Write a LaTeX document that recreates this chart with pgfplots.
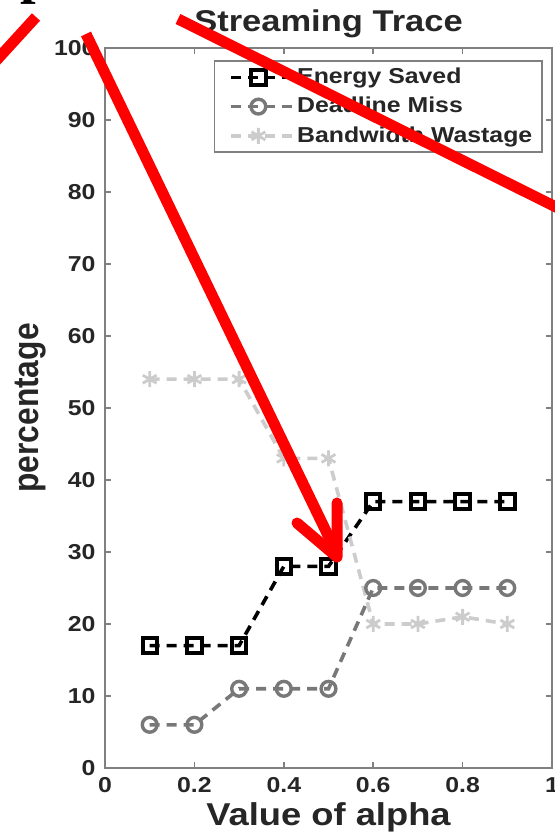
\documentclass[border=0pt]{standalone}
\usepackage{pgfplots}
\pgfplotsset{compat=1.18}
\usepackage{fontspec}
\setmainfont{Liberation Sans}[FakeStretch=1.15]
\newfontfamily\serifbold{Liberation Serif}

\definecolor{energyc}{gray}{0.0}
\definecolor{missc}{gray}{0.47}
\definecolor{wastec}{gray}{0.80}
\definecolor{framec}{gray}{0.50}

\begin{document}
\begin{tikzpicture}
% page frame (0.5pt per pixel), axis origin at (0,0)
\path[use as bounding box] (-52.5pt,-33pt) rectangle (225pt,384pt);
\begin{axis}[
  at={(0,0)}, anchor=south west,
  scale only axis, width=223.5pt, height=360pt,
  xmin=0, xmax=1, ymin=0, ymax=100,
  xtick={0,0.2,0.4,0.6,0.8,1},
  xticklabels={0,0.2,0.4,0.6,0.8,1},
  ytick={0,10,20,30,40,50,60,70,80,90,100},
  tick align=inside, major tick length=3pt,
  axis line style={draw=framec, line width=0.9pt},
  tick style={draw=framec, line width=0.8pt},
  /pgf/number format/assume math mode=true,
  ticklabel style={font=\bfseries\fontsize{10.8}{13}\selectfont, text=black!85},
  xticklabel style={anchor=base, yshift=-12pt},
  yticklabel style={xshift=-1.2pt},
  title={Streaming Trace},
  every axis title/.style={font=\bfseries\fontsize{15}{18}\selectfont,
    text=black!85, at={([yshift=8pt]axis description cs:0.5,1)}, anchor=base},
  xlabel={Value of alpha},
  every axis x label/.style={font=\bfseries\fontsize{15.8}{19}\selectfont,
    text=black!85, at={([yshift=-28.5pt]axis description cs:0.5,0)},
    anchor=base},
  ylabel={\scalebox{1}[1.3]{percentage}},
  every axis y label/.style={font=\bfseries\fontsize{13.8}{16}\selectfont,
    text=black!85, rotate=90,
    at={([xshift=-33.5pt]axis description cs:0,0.5)}, anchor=base},
  legend cell align=left,
  legend style={at={(0.98,0.983)}, anchor=north east,
    draw=framec, line width=0.8pt, text=black!85,
    font=\bfseries\fontsize{10.8}{13}\selectfont,
    inner xsep=4pt, inner ysep=1.5pt, row sep=1.3pt,
    nodes={inner xsep=1pt}},
  legend image code/.code={%
    \path (-3.5pt,0pt);
    \draw[mark repeat=2, mark phase=2, #1]
      plot coordinates {(0pt,0pt) (13.5pt,0pt) (31pt,0pt)};},
  every axis plot/.append style={line width=1.8pt,
    dash pattern=on 5pt off 3.5pt},
]
\addplot[color=energyc, mark=square, mark size=3.6pt,
  mark options={solid, fill=white, line width=2pt}]
  coordinates {(0.1,17) (0.2,17) (0.3,17) (0.4,28) (0.5,28)
               (0.6,37) (0.7,37) (0.8,37) (0.9,37)};
\addlegendentry{Energy Saved}
\addplot[color=missc, mark=o, mark size=3.7pt,
  mark options={solid, fill=white, line width=1.7pt}]
  coordinates {(0.1,6) (0.2,6) (0.3,11) (0.4,11) (0.5,11)
               (0.6,25) (0.7,25) (0.8,25) (0.9,25)};
\addlegendentry{Deadline Miss}
\addplot[color=wastec, mark=asterisk, mark size=4pt,
  mark options={solid, line width=1.4pt}]
  coordinates {(0.1,54) (0.2,54) (0.3,54) (0.4,43) (0.5,43)
               (0.6,20) (0.7,20) (0.8,21) (0.9,20)};
\addlegendentry{Bandwidth Wastage}
\end{axis}
% red annotation strokes, in pixel units from the top-left corner
\begin{scope}[shift={(-52.5pt,384pt)}, x=0.5pt, y=-0.5pt,
  draw=red, line width=5.5pt]
\node[anchor=base west, inner sep=0pt, text=black,
  font=\serifbold\bfseries\fontsize{28}{30}\selectfont] at (15,-7) {p};
\draw (-6,63) -- (36,17);
\draw (86,34) -- (337,554);
\draw[line join=round, line cap=round] (297,523) -- (337,557) -- (337,503);
\draw (178,19) -- (570,214);
\end{scope}
\end{tikzpicture}
\end{document}
